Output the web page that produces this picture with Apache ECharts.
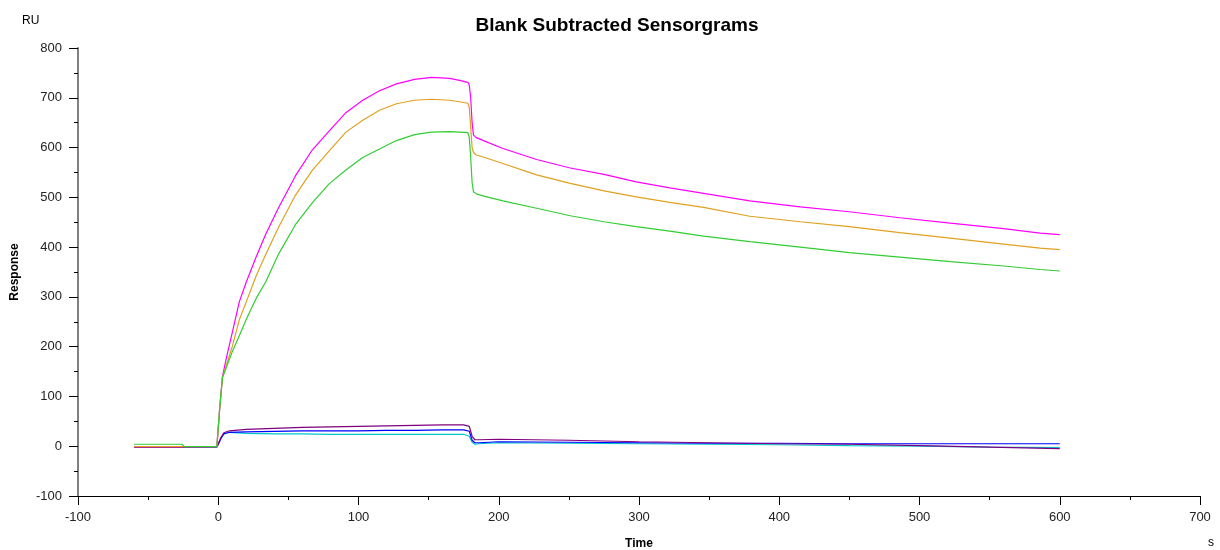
<!DOCTYPE html>
<html>
<head>
<meta charset="utf-8">
<script src="https://cdn.jsdelivr.net/npm/echarts@6/dist/echarts.min.js"></script>
<style>
html,body{margin:0;padding:0;background:#fff;}
#chart{width:1220px;height:550px;}
</style>
</head>
<body>
<div id="chart"></div>
<script>
// time points (s) for the three high-response curves
var tHigh = [-60, -30, -26, -25, -24, -1, 0, 1, 3, 6, 10, 15, 20, 27, 34, 43, 55, 67, 79, 91, 103, 115, 127, 140, 152, 165, 172, 178, 179, 180, 181, 182, 184, 190, 203, 227, 251, 275, 298, 322, 346, 379, 415, 450, 486, 522, 560, 586, 600];
var magentaVals = [-1, -1, -1, -1, -1, -1, 2, 75, 140, 180, 228, 290, 330, 380, 427, 479, 543, 595, 633, 670, 695, 714, 728, 737, 741, 739, 735, 731, 725, 700, 650, 625, 620, 613, 598, 576, 559, 546, 531, 519, 508, 493, 481, 471, 459, 448, 437, 428, 425];
var orangeVals = [-1, -1, -1, -1, -1, -1, 2, 75, 138, 165, 200, 254, 290, 342, 386, 440, 504, 554, 593, 631, 655, 675, 688, 695, 697, 695, 692, 689, 680, 640, 600, 590, 585, 580, 568, 545, 528, 513, 501, 490, 480, 462, 451, 441, 429, 418, 406, 398, 395];
var greenVals = [4, 4, 4, 8, -1, -1, 0, 75, 138, 160, 190, 222, 255, 297, 331, 386, 445, 489, 527, 555, 580, 597, 614, 626, 631, 632, 631, 630, 620, 580, 530, 511, 507, 502, 493, 478, 463, 451, 441, 432, 422, 411, 400, 389, 380, 371, 362, 355, 352];

// time points (s) for the three low-response curves
var tLow = [-60, -30, -1, 0, 2, 4, 8, 20, 40, 60, 80, 100, 120, 140, 160, 175, 179, 181, 183, 186, 200, 250, 300, 350, 400, 450, 500, 550, 600];
var purpleVals = [-2, -2, -1, 5, 18, 27, 31, 34, 36, 38, 39, 40, 41, 42, 43, 43, 40, 20, 13, 13, 14, 12, 9, 7, 5, 4, 1, -2, -5];
var blueVals = [-2, -2, -2, 4, 16, 25, 28, 29, 30, 31, 31, 31, 32, 32, 33, 33, 30, 12, 7, 7, 9, 8, 7, 6, 6, 5, 5, 5, 5];
var cyanVals = [-1, -1, -1, 4, 16, 24, 28, 26, 25, 25, 24, 24, 24, 24, 24, 24, 20, 8, 4, 5, 7, 6, 5, 4, 3, 1, 0, -2, -3];

var fontFam = '"Liberation Sans", Arial, sans-serif';

function pairs(ts, vs) {
    var out = [];
    for (var i = 0; i < ts.length; i++) out.push([ts[i], vs[i]]);
    return out;
}

function line(name, color, data) {
    return {
        name: name,
        type: 'line',
        data: data,
        showSymbol: false,
        symbol: 'none',
        lineStyle: {color: color, width: 1.2},
        itemStyle: {color: color}
    };
}

var chart = echarts.init(document.getElementById('chart'));
var option = {
    animation: false,
    backgroundColor: '#fff',
    title: {
        text: 'Blank Subtracted Sensorgrams',
        left: 612,
        textAlign: 'center',
        top: 11,
        textStyle: {fontFamily: fontFam, fontSize: 19, fontWeight: 'bold', color: '#000'}
    },
    graphic: [
        {type: 'text', left: 22, top: 15, style: {text: 'RU', font: '12px ' + fontFam, fill: '#000'}},
        {type: 'text', left: 1208, top: 537, style: {text: 's', font: '12px ' + fontFam, fill: '#000'}}
    ],
    grid: {left: 78, right: 20, top: 48, bottom: 54, outerBoundsMode: 'none', containLabel: false},
    xAxis: {
        type: 'value',
        min: -100,
        max: 700,
        interval: 100,
        name: 'Time',
        nameLocation: 'middle',
        nameGap: 42,
        nameTextStyle: {fontFamily: fontFam, fontSize: 12, fontWeight: 'bold', color: '#000'},
        axisLine: {onZero: false, lineStyle: {color: '#000', width: 1}},
        axisTick: {length: 9, lineStyle: {color: '#000'}},
        minorTick: {show: true, splitNumber: 2, length: 4, lineStyle: {color: '#000'}},
        axisLabel: {margin: 15, fontFamily: fontFam, fontSize: 13, color: '#222'},
        splitLine: {show: false}
    },
    yAxis: {
        type: 'value',
        min: -100,
        max: 800,
        interval: 100,
        name: 'Response',
        nameLocation: 'middle',
        nameGap: 57,
        nameRotate: 90,
        nameTextStyle: {fontFamily: fontFam, fontSize: 12, fontWeight: 'bold', color: '#000'},
        axisLine: {show: true, onZero: false, lineStyle: {color: '#808080', width: 2}},
        axisTick: {show: true, length: 9, lineStyle: {color: '#000'}},
        minorTick: {show: true, splitNumber: 2, length: 4, lineStyle: {color: '#000'}},
        axisLabel: {margin: 16, fontFamily: fontFam, fontSize: 13, color: '#222'},
        splitLine: {show: false}
    },
    series: [
        line('cyan', '#00c8c8', pairs(tLow, cyanVals)),
        line('blue', '#0000ff', pairs(tLow, blueVals)),
        line('purple', '#800080', pairs(tLow, purpleVals)),
        line('magenta', '#ff00ff', pairs(tHigh, magentaVals)),
        line('orange', '#e0a020', pairs(tHigh, orangeVals)),
        line('green', '#33cc33', pairs(tHigh, greenVals))
    ]
};
chart.setOption(option);
</script>
</body>
</html>
